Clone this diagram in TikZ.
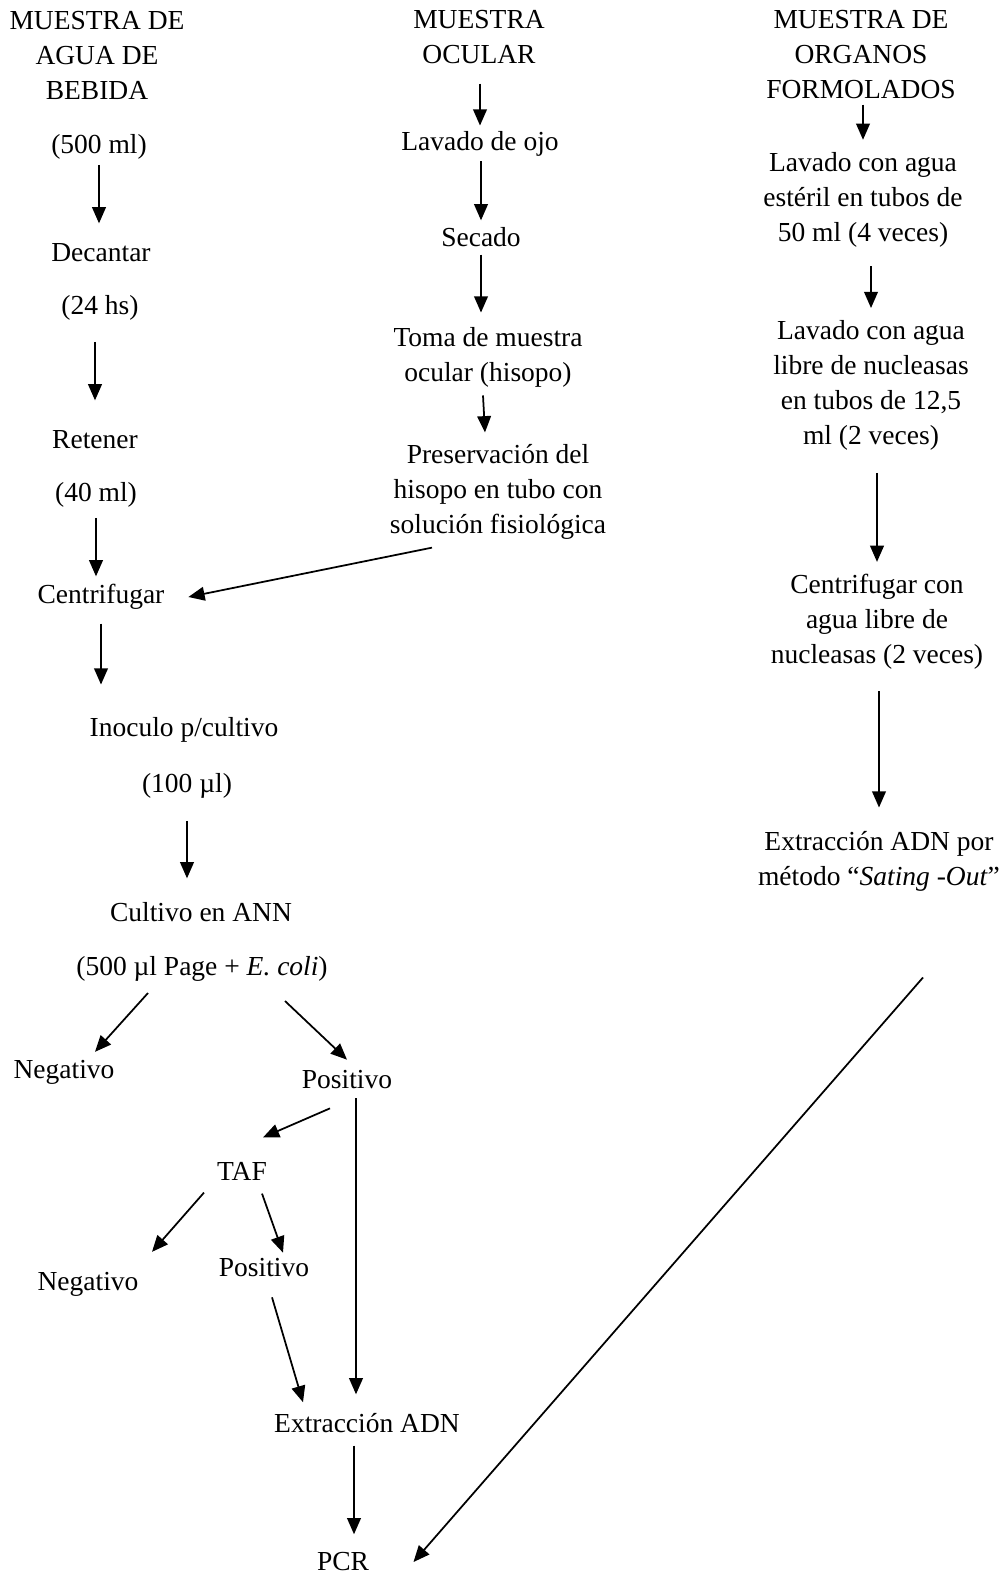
\documentclass[tikz,border=0pt]{standalone}
\usepackage{fontspec}
\setmainfont{Liberation Serif}
\usetikzlibrary{arrows.meta,calc}

\begin{document}
\begin{tikzpicture}[x=0.4pt, y=-0.4pt, font=\fontsize{11}{14}\selectfont,
	line join=round, >={Triangle[length=6.5pt,width=5.5pt]},
	txt/.style={inner sep=0pt, align=center},
	arr/.style={->, line width=0.7pt}]
	\useasboundingbox (0,0) rectangle (1000,1574);
	% muestra de agua de bebida
	\node[txt] (agua) at (97,55) {MUESTRA DE\\AGUA DE\\BEBIDA};
	\node[txt] (ml500) at (99,147) {(500 ml)};
	\node[txt] (decantar) at (101,253) {Decantar};
	\node[txt] (hs24) at (100,308) {(24 hs)};
	\node[txt] (retener) at (95,440) {Retener};
	\node[txt] (ml40) at (96,495) {(40 ml)};
	\node[txt] (centrif) at (101,597) {Centrifugar};
	\node[txt] (inoculo) at (184,730) {Inoculo p/cultivo};
	\node[txt] (ul100) at (187,786) {(100 µl)};
	\node[txt] (cultivo) at (201,912) {Cultivo en ANN};
	\node[txt] (page) at (202,969) {(500 µl Page + \textit{E. coli})};
	\node[txt] (neg1) at (64,1072) {Negativo};
	\node[txt] (pos1) at (347,1080) {Positivo};
	\node[txt] (taf) at (242,1171) {TAF};
	\node[txt] (neg2) at (88,1284) {Negativo};
	\node[txt] (pos2) at (264,1268) {Positivo};
	\node[txt] (extr) at (367,1423) {Extracción ADN};
	\node[txt] (pcr) at (343,1562) {PCR};
	% muestra ocular
	\node[txt] (ocular) at (479,37) {MUESTRA\\OCULAR};
	\node[txt] (lavojo) at (480,144) {Lavado de ojo};
	\node[txt] (secado) at (481,237) {Secado};
	\node[txt] (toma) at (488,357) {Toma de muestra\\ocular (hisopo)};
	\node[txt] (preserv) at (498,492) {Preservación del\\hisopo en tubo con\\solución fisiológica};
	% muestra de organos formolados
	\node[txt] (organos) at (861,55) {MUESTRA DE\\ORGANOS\\FORMOLADOS};
	\node[txt] (lav1) at (863,200) {Lavado con agua\\estéril en tubos de\\50 ml (4 veces)};
	\node[txt] (lav2) at (871,385) {Lavado con agua\\libre de nucleasas\\en tubos de 12,5\\ml (2 veces)};
	\node[txt] (centcon) at (877,622) {Centrifugar con\\agua libre de\\nucleasas (2 veces)};
	\node[txt] (extrpor) at (879,861) {Extracción ADN por\\método “\textit{Sating -Out}”};

	\draw[arr, shorten <=2pt, shorten >=8pt] (ml500.south) -- (ml500.south |- decantar.north);
	\draw[arr, shorten <=8.4pt, shorten >=12pt] (retener.north |- hs24.south) -- (retener.north);
	\draw[arr, shorten <=4pt, shorten >=3pt] (ml40.south) -- (ml40.south |- centrif.north);
	\draw[arr, shorten <=5.4pt, shorten >=13pt] (centrif.south) -- (centrif.south |- inoculo.north);
	\draw[arr, shorten <=8.8pt, shorten >=9.4pt] (ul100.south) -- (ul100.south |- cultivo.north);
	\draw[arr] ($(page.south)+(-54,11)$) -- ($(neg1.north)+(31,-7.6)$);
	\draw[arr] ($(page.south)+(83,19)$) -- ($(pos1.north)+(0,-10.6)$);
	\draw[arr] ($(pos1.south)+(-17,18.6)$) -- ($(taf.north)+(21,-24)$);
	\draw[arr] ($(taf.south)+(-38,12)$) -- ($(neg2.north)+(64,-19.6)$);
	\draw[arr] ($(taf.south)+(20,13)$) -- ($(pos2.north)+(19,-5.6)$);
	\draw[arr] ($(pos2.south)+(8,19.6)$) -- ($(extr.north)+(-64,-10.6)$);
	\draw[arr, shorten <=3.4pt, shorten >=7.4pt] ([xshift=3.6pt]pos1.south) -- ([xshift=3.6pt]pos1.south |- extr.north);
	\draw[arr, shorten <=5pt, shorten >=7.2pt] ([xshift=-5.2pt]extr.south) -- ([xshift=-5.2pt]extr.south |- pcr.north);

	\draw[arr, shorten <=7.8pt, shorten >=2.2pt] (lavojo.north |- ocular.south) -- (lavojo.north);
	\draw[arr, shorten <=1.8pt, shorten >=2.6pt] (secado.north |- lavojo.south) -- (secado.north);
	\draw[arr, shorten <=3pt, shorten >=5.6pt] (secado.south) -- (secado.south |- toma.north);
	\draw[arr] ($(toma.south)+(-5,8)$) -- ($(preserv.north)+(-13,-11.6)$);
	\draw[arr] ($(preserv.south)+(-66,7.6)$) -- ($(centrif.east)+(23.5,0)$);

	\draw[arr, shorten <=2pt, shorten >=4.9pt] (lav1.north |- organos.south) -- (lav1.north);
	\draw[arr, shorten <=7.3pt, shorten >=4.6pt] (lav2.north |- lav1.south) -- (lav2.north);
	\draw[arr, shorten <=9pt, shorten >=4.8pt] (centcon.north |- lav2.south) -- (centcon.north);
	\draw[arr, shorten <=8.4pt, shorten >=9.2pt] (extrpor.north |- centcon.south) -- (extrpor.north);
	\draw[arr] ($(extrpor.south)+(44,86)$) -- ($(pcr.east)+(44,0)$);
\end{tikzpicture}
\end{document}
